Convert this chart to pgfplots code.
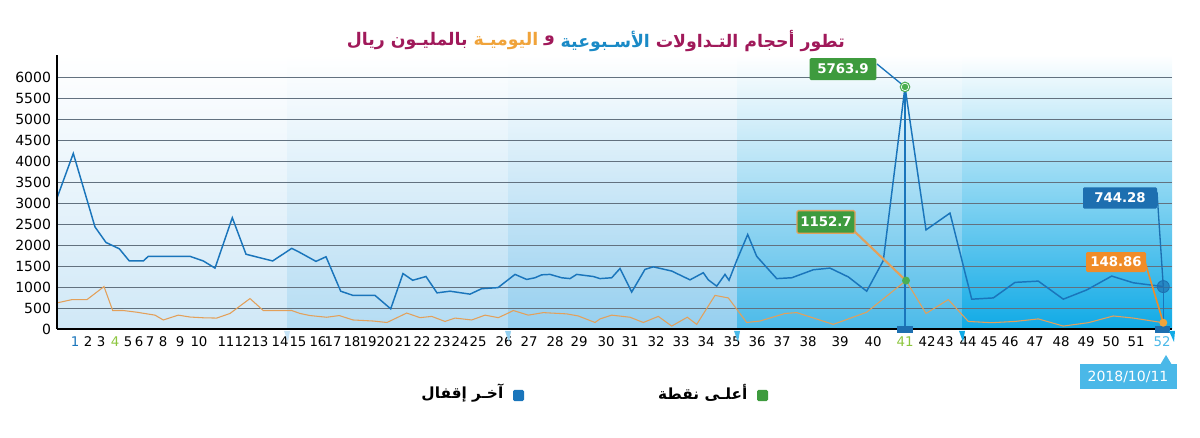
\documentclass[border=0pt]{standalone}
\usepackage{pgfplots}
\pgfplotsset{compat=1.18}
\usepackage{fontspec}
\setmainfont{DejaVu Sans}
\newfontfamily\arabicfont[Script=Arabic]{DejaVu Sans}
\TeXXeTstate=1
\definecolor{lineblue}{HTML}{1A75BB}
\definecolor{lineorange}{HTML}{E3A05A}
\definecolor{gridc}{HTML}{62717F}
\definecolor{bA}{HTML}{D0E8F7}
\definecolor{bB}{HTML}{B4DCF3}
\definecolor{bC}{HTML}{95CFEF}
\definecolor{bD}{HTML}{4BBAE9}
\definecolor{bE}{HTML}{10AAE6}
\definecolor{boxgreen}{HTML}{3E9B3E}
\definecolor{dotgreen}{HTML}{4CAF50}
\definecolor{boxblue}{HTML}{1D6FB0}
\definecolor{boxorange}{HTML}{F08C28}
\definecolor{datebox}{HTML}{4AB8E8}
\definecolor{tmaroon}{HTML}{A0195A}
\definecolor{tblue}{HTML}{1A8AC6}
\definecolor{torange}{HTML}{F0A33A}
\definecolor{tickgreen}{HTML}{8DC63F}
\definecolor{ticklb}{HTML}{4AB8E8}

\pgfplotstableread{
x y
56.7 3100
73.3 4180
95 2430
106 2060
119.3 1910
129.3 1620
143.3 1620
148.3 1730
163.3 1730
190 1730
203.3 1620
215 1450
232.3 2650
246 1780
272.7 1620
291.7 1920
300 1820
316 1610
326 1720
340.7 900
353 800
375 800
390.7 480
403 1320
412.7 1160
426 1250
437 860
450 900
470 830
481.7 960
498 985
515 1300
526.7 1180
535 1220
541.7 1290
550 1300
561.7 1220
570 1200
576.7 1300
593.3 1250
600 1200
611.7 1220
620 1440
631.7 880
645 1420
653.3 1480
671.7 1380
690 1170
703.3 1340
708.3 1170
716.7 1020
725 1300
729 1160
736.7 1630
747.7 2250
756.7 1730
776.7 1200
791.7 1220
813.3 1410
830 1450
848.3 1240
866.7 900
883.3 1630
905 5763.9
926 2360
950 2760
971.7 710
993.3 740
1015 1110
1038.3 1140
1063.3 710
1086.7 930
1111.7 1260
1133.3 1100
1163.3 1010
}\weekly

\pgfplotstableread{
x y
56.7 620
72 700
87 700
104 1010
112.7 440
123.3 440
136.7 400
155 330
163.3 215
178.3 330
190 285
203.3 267
216.7 260
230 370
250 725
263.3 440
276.7 440
291.7 440
300 370
310 320
326.7 280
339.3 320
353 215
373 190
387 155
406.7 380
420 270
431.7 300
445 180
455 260
471.7 215
485 330
498.3 270
508.3 380
513.3 440
528.3 330
543.3 390
566.7 360
578.3 310
595 155
600 240
611.7 330
630 280
643.3 155
658.3 300
671.7 70
687.3 280
696.7 110
715 800
728.3 740
746.7 155
760 190
785 370
796.7 390
833.3 110
866.7 400
906 1152.7
926 370
948.3 700
968.3 180
991.7 150
1015 180
1038.3 240
1063.3 70
1088.3 150
1113.3 310
1133.3 260
1163.3 148.86
}\daily

\begin{document}
\begin{tikzpicture}
\begin{axis}[
  at={(42.75pt,-246.75pt)}, anchor=south west,
  scale only axis, width=836.25pt, height=189pt,
  xmin=57, xmax=1172, ymin=0, ymax=6000,
  clip=false, set layers,
  axis line style={draw=none},
  major tick length=0pt,
  ytick={0,500,...,6000},
  ymajorgrids, grid style={color=gridc, line width=0.6pt},
  yticklabel style={/pgf/number format/1000 sep={}, /pgf/number format/assume math mode=true, font=\fontsize{10.5}{12}\selectfont, xshift=-1pt},
  xtick={75,88,101,115,128,139,150,163,180,199,226,243,260,280,298,318,333,352,368,385,403,422,442,460,478,504,529,555,579,606,630,656,681,706,732,757,782,808,840,873,905,927,945,968,989,1010,1035,1061,1086,1111,1136,1162},
  xticklabels={\textcolor{lineblue}{1},2,3,\textcolor{tickgreen}{4},5,6,7,8,9,10,11,12,13,14,15,16,17,18,19,20,21,22,23,24,25,26,27,28,29,30,31,32,33,34,35,36,37,38,39,40,\textcolor{tickgreen}{41},42,43,44,45,46,47,48,49,50,51,\textcolor{ticklb}{52}},
  xticklabel style={font=\fontsize{10}{12}\selectfont, yshift=-2pt},
]
\begin{pgfonlayer}{axis background}
\shade[top color=white, bottom color=bA] (axis cs:57,0) rectangle (axis cs:287,6524);
\shade[top color=white, bottom color=bB] (axis cs:287,0) rectangle (axis cs:508,6524);
\shade[top color=white, bottom color=bC] (axis cs:508,0) rectangle (axis cs:737,6524);
\shade[top color=white, bottom color=bD] (axis cs:737,0) rectangle (axis cs:962,6524);
\shade[top color=white, bottom color=bE] (axis cs:962,0) rectangle (axis cs:1172,6524);
\end{pgfonlayer}

\addplot[lineblue, line width=1.1pt, mark=none] table[x=x,y=y] {\weekly};
\addplot[lineorange, line width=0.8pt, mark=none] table[x=x,y=y] {\daily};

% vertical guide lines
\draw[lineblue, line width=0.8pt] (axis cs:905,5763.9) -- (axis cs:905,0);
\draw[lineblue, line width=0.6pt] (axis cs:1163.3,1010) -- (axis cs:1163.3,0);
% axis lines
\draw[black, line width=1.1pt] (axis cs:57,0) -- (axis cs:57,6524);
\draw[black, line width=1.6pt] (axis cs:57,0) -- (axis cs:1172,0);
% axis markers
\fill[boxblue] (axis cs:897,-95) rectangle (axis cs:913,71);
\fill[boxblue] (axis cs:1155,-95) rectangle (axis cs:1170,71);

% annotation lines
\draw[lineblue, line width=1pt] (axis cs:877,6310) -- (axis cs:905,5763.9);
\draw[lineorange, line width=1.6pt] (axis cs:853,2357) -- (axis cs:906,1152.7);
\draw[boxblue, line width=1pt] (axis cs:1157,3262) -- (axis cs:1163.3,1010);
\draw[boxorange, line width=1.2pt] (axis cs:1145,1595) -- (axis cs:1163.3,148.86);

% markers
\fill[dotgreen] (axis cs:905,5763.9) circle[radius=4pt];
\draw[white, line width=0.5pt] (axis cs:905,5763.9) circle[radius=2.8pt];
\fill[dotgreen] (axis cs:906,1152.7) circle[radius=3pt];
\fill[boxblue, opacity=0.65] (axis cs:1163.3,1010) circle[radius=4.5pt];
\draw[boxblue, line width=0.6pt] (axis cs:1163.3,1010) circle[radius=4.5pt];
\fill[torange] (axis cs:1163.3,148.86) circle[radius=3pt];

% value boxes
\node[fill=boxgreen, text=white, font=\bfseries\fontsize{10}{12}\selectfont, minimum width=50pt, minimum height=16.5pt, inner sep=1pt, rounded corners=1pt] at (axis cs:843,6190) {5763.9};
\node[fill=boxgreen, draw=lineorange, line width=1pt, text=white, font=\bfseries\fontsize{10}{12}\selectfont, minimum width=43.5pt, minimum height=17pt, inner sep=1pt, rounded corners=1pt] at (axis cs:826,2548) {1152.7};
\node[fill=boxblue, text=white, font=\bfseries\fontsize{10}{12}\selectfont, minimum width=55.5pt, minimum height=16pt, inner sep=1pt, rounded corners=1pt] at (axis cs:1120,3119) {744.28};
\node[fill=boxorange, text=white, font=\bfseries\fontsize{10}{12}\selectfont, minimum width=45pt, minimum height=15pt, inner sep=1pt, rounded corners=1pt] at (axis cs:1116,1595) {148.86};
\end{axis}

\begin{scope}[x=0.75pt, y=-0.75pt]
% band triangles under the axis
\fill[bA!70!bB] (284,331) -- (290,331) -- (288,342) -- cycle;
\fill[bC] (505,331) -- (511,331) -- (509,342) -- cycle;
\fill[bD] (734,331) -- (740,331) -- (738,342) -- cycle;
\fill[bE] (959,331) -- (965,331) -- (963,342) -- cycle;
\fill[bE] (1169,331) -- (1175,331) -- (1174,342) -- cycle;
% title, right to left, one node per colour
\node[anchor=east, inner sep=0pt, text=tmaroon, font=\arabicfont\bfseries\fontsize{13}{15}\selectfont] (t1) at (845,41) {\beginR تطور أحجام التـداولات\endR};
\node[anchor=east, inner sep=0pt, text=tblue, font=\arabicfont\bfseries\fontsize{13}{15}\selectfont, xshift=-4pt] (t2) at (t1.west) {\beginR الأسـبوعية\endR};
\node[anchor=east, inner sep=0pt, text=tmaroon, font=\arabicfont\bfseries\fontsize{13}{15}\selectfont, xshift=-4pt] (t3) at (t2.west) {\beginR و\endR};
\node[anchor=east, inner sep=0pt, text=torange, font=\arabicfont\bfseries\fontsize{13}{15}\selectfont, xshift=-4pt] (t4) at (t3.west) {\beginR اليوميـة\endR};
\node[anchor=east, inner sep=0pt, text=tmaroon, font=\arabicfont\bfseries\fontsize{13}{15}\selectfont, xshift=-4pt] (t5) at (t4.west) {\beginR بالمليـون ريال\endR};
% legend
\fill[boxgreen, rounded corners=1pt] (757,390) rectangle (768,401);
\node[anchor=east, font=\arabicfont\bfseries\fontsize{11.5}{13}\selectfont] at (752,393) {\beginR أعلـى نقطة\endR};
\fill[lineblue, rounded corners=1pt] (513,390) rectangle (524,401);
\node[anchor=east, font=\arabicfont\bfseries\fontsize{11.5}{13}\selectfont] at (508,393) {\beginR آخـر إقفال\endR};
% date box
\fill[datebox] (1160,365) -- (1166,355) -- (1172,365) -- cycle;
\node[fill=datebox, text=white, font=\fontsize{10.5}{12}\selectfont, minimum width=72.75pt, minimum height=18.75pt, inner sep=1pt] at (1128,377) {2018/10/11};
\end{scope}
\pgfresetboundingbox
\path[use as bounding box] (0,0) rectangle (900pt,-328.5pt);
\end{tikzpicture}
\end{document}
